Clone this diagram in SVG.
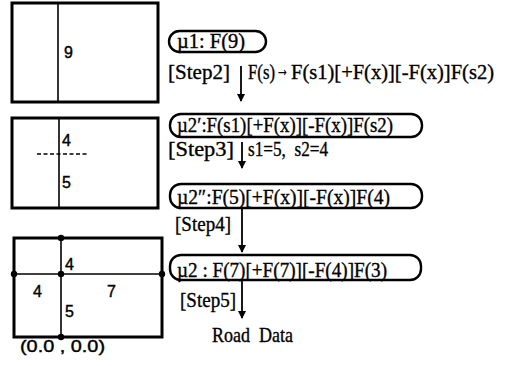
<svg xmlns="http://www.w3.org/2000/svg" width="505" height="366" viewBox="0 0 505 366">
<style>
.box{fill:none;stroke:#000;stroke-width:3}
.ln{fill:none;stroke:#000;stroke-width:1.6}
.pill{fill:none;stroke:#000;stroke-width:2.4}
.t{font-family:"Liberation Serif","Times New Roman",serif;font-size:21px;fill:#000;stroke:#000;stroke-width:0.35;white-space:pre}
.n{font-family:"Liberation Sans",Arial,sans-serif;font-size:16px;fill:#000;stroke:#000;stroke-width:0.4}
.arr{stroke:#000;stroke-width:1.8;fill:none}
</style>
<defs>
<marker id="ah" viewBox="0 0 8 10" refX="7" refY="5" markerWidth="8" markerHeight="10" markerUnits="userSpaceOnUse" orient="auto"><path d="M0,1 L8,5 L0,9 Z" fill="#000"/></marker>
</defs>
<rect width="505" height="366" fill="#fff"/>
<g id="plan1">
<rect class="box" x="12" y="3" width="146" height="99"/>
<line class="ln" x1="58" y1="3" x2="58" y2="102"/>
<text class="n" x="64" y="58">9</text>
</g>
<g id="plan2">
<rect class="box" x="12" y="118" width="146" height="90"/>
<line class="ln" x1="59" y1="118" x2="59" y2="208"/>
<line class="ln" x1="37" y1="154" x2="88" y2="154" stroke-dasharray="4,2.5"/>
<text class="n" x="62" y="146">4</text>
<text class="n" x="62" y="188">5</text>
</g>
<g id="plan3">
<rect class="box" x="14" y="238" width="148" height="99"/>
<line class="ln" x1="61" y1="238" x2="61" y2="337"/>
<line class="ln" x1="14" y1="274" x2="162" y2="274"/>
<circle cx="61" cy="238" r="3.2"/>
<circle cx="14" cy="274" r="3.2"/>
<circle cx="61" cy="274" r="3.2"/>
<circle cx="162" cy="274" r="3.2"/>
<circle cx="61" cy="337" r="3.2"/>
<text class="n" x="65" y="270">4</text>
<text class="n" x="33" y="297">4</text>
<text class="n" x="107" y="297">7</text>
<text class="n" x="65" y="317">5</text>
<text class="n" x="20" y="352" textLength="85" lengthAdjust="spacingAndGlyphs" font-size="17">(0.0 , 0.0)</text>
</g>
<g id="mu1">
<rect class="pill" x="169" y="31" width="97" height="21" rx="10.5"/>
<text class="t" x="177" y="48" textLength="68" lengthAdjust="spacingAndGlyphs">µ1: F(9)</text>
</g>
<g id="mu2p">
<rect class="pill" x="170" y="114" width="252" height="23" rx="11"/>
<text class="t" x="177" y="132" textLength="216" lengthAdjust="spacingAndGlyphs">µ2′:F(s1)[+F(x)][-F(x)]F(s2)</text>
</g>
<g id="mu2pp">
<rect class="pill" x="170" y="184" width="252" height="24" rx="11"/>
<text class="t" x="177" y="204" textLength="213" lengthAdjust="spacingAndGlyphs">µ2″:F(5)[+F(x)][-F(x)]F(4)</text>
</g>
<g id="mu2">
<rect class="pill" x="170" y="255" width="251" height="25" rx="11"/>
<text class="t" x="177" y="277" textLength="210" lengthAdjust="spacingAndGlyphs">µ2 : F(7)[+F(7)][-F(4)]F(3)</text>
</g>
<g id="road">
<text class="t" x="212" y="342" textLength="81" lengthAdjust="spacingAndGlyphs">Road  Data</text>
</g>
<g id="connectors">
<line class="arr" x1="241" y1="66" x2="241" y2="101" marker-end="url(#ah)"/>
<line class="arr" x1="242" y1="142" x2="242" y2="168" marker-end="url(#ah)"/>
<line class="arr" x1="242" y1="209" x2="242" y2="252" marker-end="url(#ah)"/>
<line class="arr" x1="242" y1="281" x2="242" y2="318" marker-end="url(#ah)"/>
</g>
<g id="labels">
<text class="t" x="168" y="79" textLength="62" lengthAdjust="spacingAndGlyphs">[Step2]</text>
<text class="t" x="248" y="79" font-size="18" textLength="27" lengthAdjust="spacingAndGlyphs">F(s)</text>
<text class="t" x="276" y="76" font-size="13" textLength="13" lengthAdjust="spacingAndGlyphs">→</text>
<text class="t" x="291" y="79" font-size="18" textLength="203" lengthAdjust="spacingAndGlyphs">F(s1)[+F(x)][-F(x)]F(s2)</text>
<text class="t" x="168" y="156" textLength="66" lengthAdjust="spacingAndGlyphs">[Step3]</text>
<text class="t" x="248" y="156" textLength="80" lengthAdjust="spacingAndGlyphs">s1=5,  s2=4</text>
<text class="t" x="175" y="231" textLength="56" lengthAdjust="spacingAndGlyphs">[Step4]</text>
<text class="t" x="180" y="307" textLength="56" lengthAdjust="spacingAndGlyphs">[Step5]</text>
</g>
</svg>
